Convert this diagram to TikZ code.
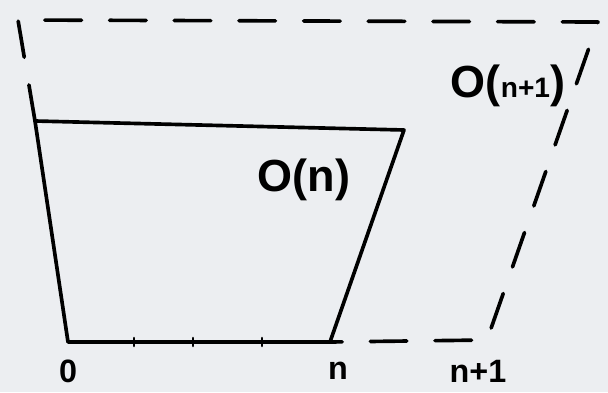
\documentclass[tikz,border=0pt]{standalone}
\usepackage{fontspec}
\setmainfont{Liberation Sans}
\definecolor{paper}{RGB}{236,238,241}
\tikzset{
  edge/.style={line width=2.6pt, line join=round, line cap=round},
  dashedge/.style={edge, dash pattern=on 26pt off 20pt},
  lbl/.style={inner sep=0pt, font=\bfseries\fontsize{23}{25}\selectfont},
  biglbl/.style={inner sep=0pt, font=\bfseries\fontsize{32}{34}\selectfont},
}
\begin{document}
\begin{tikzpicture}[line cap=round]

  % page: 608 x 392 px, 40 px = 1 cm
  \fill[paper] (0,0) rectangle (15.2,9.8);
  \useasboundingbox (0,0) rectangle (15.2,9.8);

  % corners of the two shapes
  \coordinate (A)  at (1.70,  1.25);
  \coordinate (N)  at (8.25,  1.25);
  \coordinate (T1) at (10.10, 6.55);
  \coordinate (T0) at (0.875, 6.775);
  \coordinate (D0) at (0.45,  9.30);
  \coordinate (D1) at (14.95, 9.25);
  \coordinate (N1) at (12.175,1.30);

  % O(n): solid trapezoid
  \draw[edge] (A) -- (N) -- (T1) -- (T0) -- cycle;

  % O(n+1): dashed outline
  \draw[dashedge] (T0) -- (D0) -- (D1) -- (N1) -- (N);

  % ticks on the base
  \foreach \x in {3.35, 4.82, 6.55}
    \draw[line width=1.8pt] (\x, 1.15) -- (\x, 1.35);

  % labels
  \node[lbl] (zero)  at (1.70,  0.52) {0};
  \node[lbl] (nlab)  at (8.45,  0.52) {n};
  \node[lbl] (nplus) at (11.95, 0.52) {n+1};
  \node[biglbl] (On)  at (7.60, 5.30) {O(n)};
  \node[biglbl] (On1) at (12.70, 7.65)
    {O({\fontsize{20}{22}\selectfont n+1})};

\end{tikzpicture}
\end{document}
